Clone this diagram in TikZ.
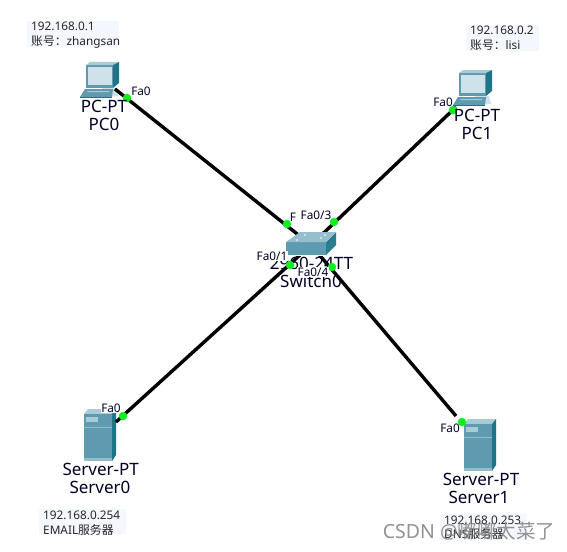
\documentclass[tikz,border=0pt]{standalone}
\usepackage{fontspec}
\setmainfont{Noto Sans}
\newfontfamily\cjk{Noto Sans CJK SC}
\definecolor{tealmid}{HTML}{5F9BB0}
\definecolor{tealdark}{HTML}{1F7488}
\definecolor{teallight}{HTML}{A9CBD6}
\definecolor{screenc}{HTML}{CFE2EA}
\definecolor{notebg}{HTML}{F5F7FE}
\definecolor{dotgreen}{HTML}{10F020}
\tikzset{
  x=1pt,y=-1pt,
  link/.style={line width=3.4pt,black},
  devlabel/.style={font=\fontsize{17}{18}\selectfont,text=black!85!blue,inner sep=0pt},
  portlabel/.style={font=\fontsize{11.8}{12}\selectfont,text=black!85!blue,inner sep=0.5pt},
  portwhite/.style={portlabel,fill=white},
  notetext/.style={font=\fontsize{11.8}{12}\selectfont,text=black!85,inner sep=0pt,anchor=base west},
  notebox/.style={fill=notebg,draw=none},
  dot/.style={circle,fill=dotgreen,draw=none,minimum size=8.5pt,inner sep=0pt},
  wmark/.style={font=\fontsize{19.5}{20}\selectfont,text=black!50,inner sep=0pt,opacity=0.85},
}
\newcommand{\pcicon}[2]{%
  \begin{scope}[shift={(#1,#2)}]
    \fill[teallight!60!white] (22,26) -- (36,26) -- (38,34) -- (26,35) -- cycle;
    \fill[tealmid] (5,27) -- (33,27) -- (32,35) -- (0,35) -- cycle;
    \fill[tealdark] (0,35) -- (32,35) -- (32,36) -- (0,36) -- cycle;
    \fill[teallight] (8,29) -- (29,29) -- (29,30) -- (7,30) -- cycle;
    \fill[tealmid] (6,3) -- (33,3) -- (33,26) -- (6,26) -- cycle;
    \fill[teallight] (6,3) -- (10,0) -- (39,0) -- (33,3) -- cycle;
    \fill[tealdark] (33,3) -- (39,0) -- (39,21) -- (33,26) -- cycle;
    \fill[screenc] (8,5) -- (31.5,5) -- (31.5,23) -- (8,23) -- cycle;
  \end{scope}}
\newcommand{\servericon}[2]{%
  \begin{scope}[shift={(#1,#2)}]
    \fill[teallight] (0,5) -- (4,0) -- (32,0) -- (28,5) -- cycle;
    \fill[tealdark] (28,5) -- (32,0) -- (32,46) -- (28,52) -- cycle;
    \fill[tealmid] (0,5) rectangle (28,52);
    \fill[teallight] (2,8) rectangle (14,13);
    \fill[teallight!70!tealmid] (0,18) rectangle (28,19);
    \fill[teallight!70!tealmid] (0,49) rectangle (28,52);
  \end{scope}}
\begin{document}
\begin{tikzpicture}
\useasboundingbox (0,0) rectangle (567,551);
\fill[white] (0,0) rectangle (567,551);

\coordinate (pc0) at (115,89);
\coordinate (pc1) at (456,107);
\coordinate (srv0) at (116,422);
\coordinate (srv1) at (456,416);
\coordinate (sw) at (311,245);

\fill[notebox] (27,21) rectangle (119,47);
\fill[notebox] (466,25) rectangle (539,51);
\fill[notebox] (39,509) rectangle (126,534);
\fill[notebox] (440,514) rectangle (527,540);

\pcicon{80}{62}
\pcicon{453}{70}
\servericon{84}{409}
\servericon{464}{419}

\draw[link] (pc0) -- (sw);
\draw[link] (pc1) -- (sw);
\draw[link] (srv0) -- (sw);
\draw[link] (srv1) -- (sw);

\node[devlabel] (swtype) at (311.5,263) {2960-24TT};
\node[devlabel] (swname) at (311,281) {Switch0};

\fill[white] (286,246) rectangle (336,256);
\fill[tealmid] (286,242) -- (326,242) -- (326,255) -- (286,255) -- cycle;
\fill[tealdark!80!tealmid] (326,242) -- (336,232) -- (336,245) -- (326,255) -- cycle;
\fill[teallight!75!tealmid] (286,242) -- (300,232) -- (336,232) -- (326,242) -- cycle;
\fill[white!80!tealmid] (297,240) circle (1.2);
\fill[white!80!tealmid] (321,238) circle (1.2);
\fill[white!80!tealmid] (305,235) circle (1.2);
\fill[white!80!tealmid] (325,235) circle (1.2);

\node[dot] (d1) at (127,98) {};
\node[dot] (d2) at (453,110) {};
\node[dot] (d3) at (123,416) {};
\node[dot] (d4) at (462,422) {};
\node[dot] (d5) at (287,224) {};
\node[dot] (d6) at (334,222) {};
\node[dot] (d7) at (290,265) {};
\node[dot] (d8) at (332,267) {};

\node[devlabel] (l1) at (104,106) {PC-PT};
\node[devlabel] (l2) at (104,124) {PC0};
\node[devlabel] (l3) at (477,115) {PC-PT};
\node[devlabel] (l4) at (477,133) {PC1};
\node[devlabel] (l5) at (100.7,469) {Server-PT};
\node[devlabel] (l6) at (100,487) {Server0};
\node[devlabel] (l7) at (481,479) {Server-PT};
\node[devlabel] (l8) at (479,497) {Server1};

\node[portlabel] (p1) at (141,91) {Fa0};
\node[portlabel] (p2) at (443,102) {Fa0};
\node[portwhite] (p3) at (111,408) {Fa0};
\node[portlabel] (p4) at (450,428) {Fa0};
\node[portlabel] (p5) at (293,217) {F};
\node[portlabel] (p6) at (316,215) {Fa0/3};
\node[portwhite] (p7) at (272,256) {Fa0/1};
\node[portwhite] (p8) at (313,272) {Fa0/4};

\node[notetext] (n1) at (31,31) {192.168.0.1};
\node[notetext] (n2) at (31,46) {{\cjk 账号：}zhangsan};
\node[notetext] (n3) at (470,35) {192.168.0.2};
\node[notetext] (n4) at (470,50) {{\cjk 账号：}lisi};
\node[notetext] (n5) at (43,519) {192.168.0.254};
\node[notetext] (n6) at (43,534) {EMAIL{\cjk 服务器}};
\node[notetext] (n7) at (444,524) {192.168.0.253};
\node[notetext] (n8) at (444,538) {DNS{\cjk 服务器}};

\node[wmark] (wm) at (469,531) {CSDN @{\cjk 嘟嘟太菜了}};
\end{tikzpicture}
\end{document}
